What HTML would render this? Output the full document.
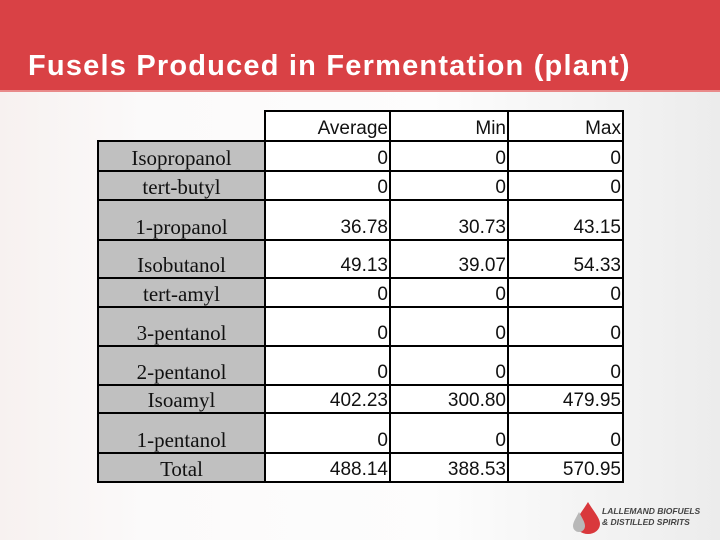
<!DOCTYPE html>
<html><head><meta charset="utf-8"><style>
body{margin:0}
#s{position:relative;width:720px;height:540px;overflow:hidden;background:linear-gradient(90deg,#f7f1f0 0%,#fbfafa 20%,#fdfdfd 60%,#ececec 100%);font-family:"Liberation Sans",sans-serif}
#hdr{position:absolute;left:0;top:0;width:720px;height:90px;background:#d94145;border-bottom:2px solid #e98a8a}
#title{position:absolute;left:28px;top:50px;color:#fff;font-weight:bold;font-size:29px;letter-spacing:1.2px;white-space:nowrap}
.c{position:absolute;box-sizing:border-box;border:2px solid #000;display:flex;align-items:flex-end;overflow:hidden}
.l{background:#c0c0c0;justify-content:center;font-family:"Liberation Serif",serif;font-size:21px;color:#111;line-height:24px}
.v{background:#fff;justify-content:flex-end;font-size:19px;color:#111;padding-right:1px;line-height:22px}
#logo{position:absolute;left:572px;top:500px}
</style></head><body>
<div id="s">
<div id="hdr"><div id="title">Fusels Produced in Fermentation (plant)</div></div>
<div id="tbl"></div>
<div id="logo">
<svg width="140" height="34"><path d="M16 2 C10 12 4 18 4 24 a12 10 0 0 0 24 0 C28 18 22 12 16 2Z" fill="#d9383c"/><path d="M7 12 C4 18 1 22 1 26 a6 6 0 0 0 12 0 C13 22 10 18 7 12Z" fill="#b8b8b8"/>
<text x="30" y="14" font-family="Liberation Sans" font-style="italic" font-weight="bold" font-size="8.5" fill="#444">LALLEMAND BIOFUELS</text>
<text x="30" y="25" font-family="Liberation Sans" font-style="italic" font-weight="bold" font-size="8.5" fill="#444">&amp; DISTILLED SPIRITS</text></svg></div>
</div>
<script>
const labels=["Isopropanol","tert-butyl","1-propanol","Isobutanol","tert-amyl","3-pentanol","2-pentanol","Isoamyl","1-pentanol","Total"];
const avg=["0","0","36.78","49.13","0","0","0","402.23","0","488.14"];
const mins=["0","0","30.73","39.07","0","0","0","300.80","0","388.53"];
const maxs=["0","0","43.15","54.33","0","0","0","479.95","0","570.95"];
const heads=["Average","Min","Max"];
const rowY=[141,171,200,240,278,307,346,385,413,453,482];
const colX=[98,265,390,508,623];
const t=document.getElementById('tbl');
function cell(cls,x,y,w,h,txt,nm){const d=document.createElement('div');d.className='c '+cls;


d.style.cssText=`left:${x-1}px;top:${y-1}px;width:${w+2}px;height:${h+2}px`;d.textContent=txt;t.appendChild(d);}
const cols=[avg,mins,maxs];
heads.forEach((h,j)=>cell('v',colX[j+1],111,colX[j+2]-colX[j+1],30,h,'header-'+h.toLowerCase()));
labels.forEach((lb,i)=>{const y=rowY[i],h=rowY[i+1]-y;
cell('l',colX[0],y,colX[1]-colX[0],h,lb,'row-label');
cols.forEach((c,j)=>cell('v',colX[j+1],y,colX[j+2]-colX[j+1],h,c[i],'value-cell'));});
</script>
</body></html>
